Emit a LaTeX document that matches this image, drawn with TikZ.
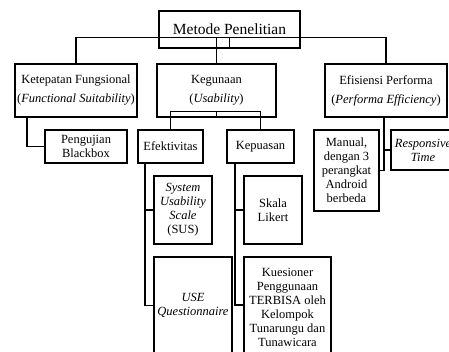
\documentclass[tikz,border=0pt]{standalone}
\usepackage{fontspec}
\setmainfont{Liberation Serif}
\usepackage{tikz}

\begin{document}
\begin{tikzpicture}[x=1pt,y=-1pt,line width=1.2pt,
  box/.style={draw,rectangle,inner sep=0pt,align=center,font=\fontsize{12.5}{14}\selectfont},
  wire/.style={line width=1.2pt}]
\useasboundingbox (0,0) rectangle (449,351);
\clip (0,0) rectangle (449,351);
\node[box,minimum width=141pt,minimum height=37pt,font=\fontsize{15.5}{18}\selectfont] (mp) at (229.5,29.5) {Metode Penelitian};
\node[box,minimum width=122pt,minimum height=53pt] (kf) at (76,90.5) {Ketepatan Fungsional\\[5pt](\textit{Functional Suitability})};
\node[box,minimum width=119pt,minimum height=53pt] (kg) at (216.5,90.5) {Kegunaan\\[5pt](\textit{Usability})};
\node[box,minimum width=122pt,minimum height=53pt] (ef) at (386,90.5) {Efisiensi Performa\\[5pt](\textit{Performa Efficiency})};
\node[box,minimum width=82pt,minimum height=33pt] (pb) at (86,146.5) {Pengujian\\Blackbox};
\node[box,minimum width=65pt,minimum height=33pt] (efk) at (170.5,146.5) {Efektivitas};
\node[box,minimum width=67pt,minimum height=33pt] (kep) at (260.5,146.5) {Kepuasan};
\node[box,minimum width=58pt,minimum height=68pt] (sus) at (183,210) {\textit{System}\\\textit{Usability}\\\textit{Scale}\\(SUS)};
\node[box,minimum width=78pt,minimum height=97pt] (use) at (193,305.5) {\textit{USE}\\\textit{Questionnaire}};
\node[box,minimum width=58pt,minimum height=68pt] (sl) at (273,210) {Skala\\Likert};
\node[box,minimum width=87pt,minimum height=100pt] (kue) at (287.5,307) {Kuesioner\\Penggunaan\\TERBISA oleh\\Kelompok\\Tunarungu dan\\Tunawicara};
\node[box,minimum width=65pt,minimum height=81pt] (man) at (346.5,170.5) {Manual,\\dengan 3\\perangkat\\Android\\berbeda};
\node[box,minimum width=64pt,minimum height=40pt] (rt) at (423,150) {\textit{Responsive}\\\textit{Time}};
% level 1
\draw[wire] (mp.south) -- ++(0,-11.5) -| (kf.north);
\draw[wire] (mp.south) -- ++(0,-11.5) -| (kg.north);
\draw[wire] (mp.south) -- ++(0,-11.5) -| (ef.north);
% level 2
\draw[wire] ([xshift=-49pt]kf.south) |- (pb.west);
\draw[wire] (kg.south) -- ++(0,-6) -| (efk.north);
\draw[wire] (kg.south) -- ++(0,-6) -| (kep.north);
\draw[wire] ([xshift=-2pt]ef.south) |- (man.east);
\draw[wire] ([xshift=-2pt]ef.south) |- (rt.west);
% level 3
\draw[wire] ([xshift=-25.5pt]efk.south) |- (sus.west);
\draw[wire] ([xshift=-25.5pt]efk.south) |- (use.west);
\draw[wire] ([xshift=-25.5pt]kep.south) |- (sl.west);
\draw[wire] ([xshift=-25.5pt]kep.south) |- ([yshift=2pt]kue.west);
\end{tikzpicture}
\end{document}
